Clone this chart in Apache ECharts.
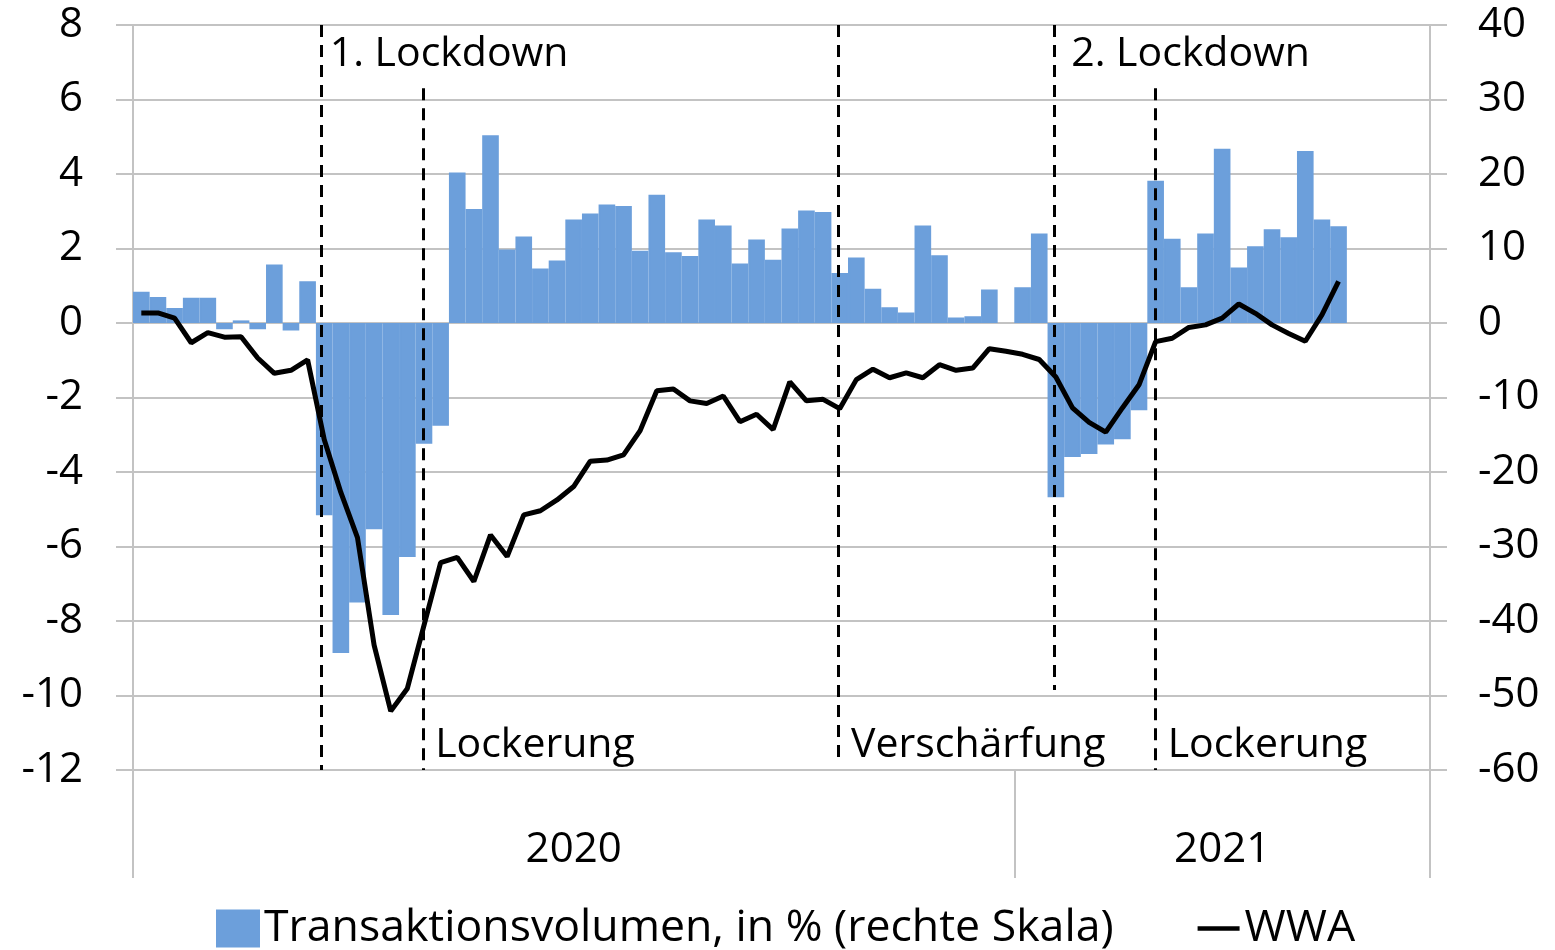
<!DOCTYPE html>
<html>
<head>
<meta charset="utf-8">
<title>WWA und Transaktionsvolumen</title>
<script src="https://cdn.jsdelivr.net/npm/echarts@6/dist/echarts.min.js"></script>
<style>
    html, body { margin: 0; padding: 0; background: #fff; }
    #J_chartPanel { width: 1555px; height: 950px; }
</style>
</head>
<body>
<div id="J_chartPanel"></div>
<script>
// weeks per year shown on the axis
var yearLabels = ['2020', '2021'];
var yearWeeks = [53, 25];

// Transaktionsvolumen in % (right scale), one value per week
var volume = [
    4.2, 3.5, 2.0, 3.4, 3.4, -0.85, 0.35, -0.85, 7.85, -1.0,
    5.6, -25.8, -44.3, -37.5, -27.7, -39.2, -31.4, -16.2, -13.8, 20.2,
    15.3, 25.2, 9.85, 11.6, 7.3, 8.4, 13.9, 14.7, 15.9, 15.7,
    9.7, 17.2, 9.5, 9.0, 13.9, 13.1, 8.0, 11.2, 8.5, 12.7,
    15.1, 14.9, 6.7, 8.8, 4.6, 2.1, 1.4, 13.1, 9.1, 0.75,
    0.9, 4.5, null,
    4.8, 12.0, -23.4, -18.0, -17.6, -16.3, -15.6, -11.7, 19.1, 11.3,
    4.8, 12.0, 23.4, 7.45, 10.3, 12.6, 11.5, 23.1, 13.9, 13.0,
    null, null, null, null, null
];

// WWA (left scale)
var wwa = [
    0.27, 0.27, 0.13, -0.53, -0.26, -0.38, -0.37, -0.94, -1.35, -1.27,
    -0.99, -3.13, -4.55, -5.76, -8.65, -10.42, -9.81, -8.12, -6.43, -6.29,
    -6.94, -5.69, -6.27, -5.15, -5.04, -4.75, -4.39, -3.71, -3.68, -3.54,
    -2.89, -1.82, -1.77, -2.09, -2.16, -1.96, -2.65, -2.45, -2.86, -1.58,
    -2.09, -2.05, -2.30, -1.52, -1.24, -1.47, -1.34, -1.47, -1.12, -1.27,
    -1.21, -0.69, -0.76,
    -0.84, -0.98, -1.45, -2.28, -2.67, -2.93, -2.28, -1.66, -0.5, -0.41,
    -0.12, -0.05, 0.13, 0.51, 0.26, -0.05, -0.28, -0.49, 0.22, 1.12,
    null, null, null, null, null
];

// event markers (position in weeks from start) and their labels
var eventWeeks = [11.35, 17.45, 42.4, 55.4, 61.5];
var eventTops = [8, 6.3, 8, 8, 6.3];
var eventBottoms = [-12, -12, -11.7, -9.85, -12];
var eventLabels = ['1. Lockdown', 'Lockerung', 'Verschärfung', '2. Lockdown', 'Lockerung'];
var eventLabelPos = ['top', 'bottom', 'bottom', 'top', 'bottom'];

var leftTicks = { min: -12, max: 8, interval: 2 };
var rightTicks = { min: -60, max: 40, interval: 10 };

;(function(window){
    var font = '"Open Sans", sans-serif';
    var gray = '#c3c3c3';
    var barColor = '#6c9fdb';
    // horizontal gap between a dashed line and its caption
    var captionGap = [8, 12, 13, 17, 12];

    var categories = [];
    var bounds = [0];
    for (var y = 0; y < yearLabels.length; y++) {
        for (var w = 1; w <= yearWeeks[y]; w++) {
            categories.push(yearLabels[y] + '-KW' + w);
        }
        bounds.push(bounds[bounds.length - 1] + yearWeeks[y]);
    }
    var labelCenters = [];
    for (var i = 0; i < yearLabels.length; i++) {
        labelCenters.push((bounds[i] + bounds[i + 1]) / 2);
    }

    var eventLines = eventWeeks.map(function(x, i){
        return [{ coord: [x, eventTops[i]] }, { coord: [x, eventBottoms[i]] }];
    });

    var myChart = window.echarts.init(document.getElementById('J_chartPanel'));
    var chartOptions = {
        animation: false,
        backgroundColor: '#fff',
        grid: { left: 133, right: 125, top: 25, bottom: 180 },
        legend: {
            left: 211,
            top: 901,
            itemWidth: 42,
            itemHeight: 36,
            itemGap: 84,
            textStyle: { fontFamily: font, fontSize: 44.6, color: '#000' },
            data: [
                { name: 'Transaktionsvolumen, in % (rechte Skala)', icon: 'rect' },
                { name: 'WWA', icon: 'path://M0,0H45V5H0Z' }
            ]
        },
        xAxis: [
            {
                type: 'category',
                data: categories,
                show: false
            },
            {
                type: 'value',
                position: 'bottom',
                min: 0,
                max: bounds[bounds.length - 1],
                axisLine: { show: false, onZero: false },
                splitLine: { show: false },
                axisTick: {
                    show: true,
                    customValues: bounds,
                    length: 108,
                    lineStyle: { color: gray, width: 2 }
                },
                axisLabel: {
                    customValues: labelCenters,
                    margin: 59,
                    fontFamily: font,
                    fontSize: 42,
                    color: '#000',
                    formatter: function(v){
                        var idx = labelCenters.indexOf(v);
                        return idx >= 0 ? yearLabels[idx] : '';
                    }
                }
            }
        ],
        yAxis: [
            {
                type: 'value',
                min: leftTicks.min,
                max: leftTicks.max,
                interval: leftTicks.interval,
                axisLine: { show: true, lineStyle: { color: gray, width: 2 } },
                axisTick: { show: true, length: 17, lineStyle: { color: gray, width: 2 } },
                splitLine: { show: true, lineStyle: { color: gray, width: 2 } },
                axisLabel: { margin: 50, fontFamily: font, fontSize: 42, color: '#000' }
            },
            {
                type: 'value',
                min: rightTicks.min,
                max: rightTicks.max,
                interval: rightTicks.interval,
                axisLine: { show: true, lineStyle: { color: gray, width: 2 } },
                axisTick: { show: true, length: 17, lineStyle: { color: gray, width: 2 } },
                splitLine: { show: false },
                axisLabel: { margin: 48, fontFamily: font, fontSize: 42, color: '#000' }
            }
        ],
        series: [
            {
                name: 'Transaktionsvolumen, in % (rechte Skala)',
                type: 'bar',
                xAxisIndex: 0,
                yAxisIndex: 1,
                barWidth: '100%',
                barCategoryGap: '0%',
                itemStyle: { color: barColor, borderColor: barColor, borderWidth: 2 },
                data: volume
            },
            {
                name: 'WWA',
                type: 'line',
                xAxisIndex: 0,
                yAxisIndex: 0,
                symbol: 'none',
                lineStyle: { color: '#000', width: 5 },
                itemStyle: { color: '#000' },
                z: 5,
                data: wwa
            },
            {
                name: 'events',
                type: 'line',
                xAxisIndex: 1,
                yAxisIndex: 0,
                data: [],
                z: 6,
                markLine: {
                    silent: true,
                    symbol: 'none',
                    label: { show: false },
                    lineStyle: { color: '#000', width: 3, type: [12, 8] },
                    data: eventLines
                }
            }
        ]
    };
    myChart.setOption(chartOptions);

    // event captions next to the dashed lines
    var texts = eventWeeks.map(function(x, i){
        var p = myChart.convertToPixel({ xAxisIndex: 1, yAxisIndex: 0 }, [x, 0]);
        return {
            type: 'text',
            left: p[0] + captionGap[i],
            top: eventLabelPos[i] === 'top' ? 34 : 725,
            style: {
                text: eventLabels[i],
                fontFamily: font,
                fontSize: 41,
                fill: '#000'
            },
            z: 10
        };
    });
    myChart.setOption({ graphic: texts });
})(window);
</script>
</body>
</html>
